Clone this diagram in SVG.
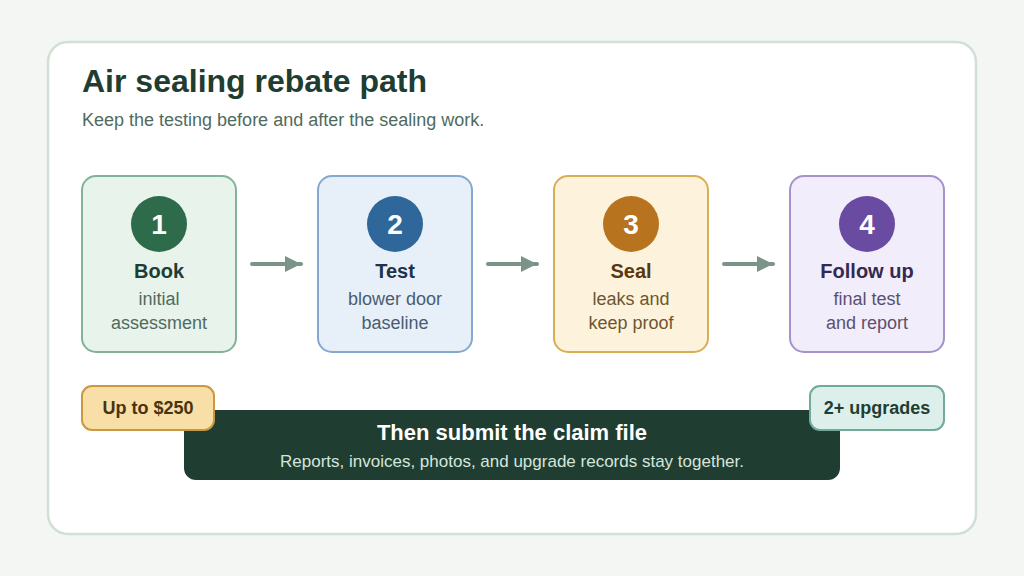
<svg xmlns="http://www.w3.org/2000/svg" width="1024" height="576" viewBox="0 0 1024 576">
<defs>
<style>
text{font-family:"Liberation Sans",Arial,sans-serif}
.title{font-size:32px;font-weight:bold;fill:#1f3d30}
.sub{font-size:18px;fill:#4f6b5d}
.node rect{stroke-width:2}
.num{font-size:28px;font-weight:bold;fill:#fff;text-anchor:middle}
.lbl{font-size:20px;font-weight:bold;text-anchor:middle}
.desc{font-size:18px;text-anchor:middle}
.conn line{stroke:#7a9487;stroke-width:4;stroke-linecap:round}
.badge{font-size:18px;font-weight:bold;text-anchor:middle}
</style>
<marker id="ah" viewBox="0 0 16 16" refX="16" refY="8" markerWidth="16" markerHeight="16" orient="auto" markerUnits="userSpaceOnUse">
<path d="M0,0 L16,8 L0,16 z" fill="#7a9487"/>
</marker>
</defs>
<rect width="1024" height="576" fill="#f3f6f3"/>
<rect x="48" y="42" width="928" height="492" rx="20" fill="#fff" stroke="#d0e0d5" stroke-width="2.5"/>
<text class="title" x="82" y="92">Air sealing rebate path</text>
<text class="sub" x="82" y="126">Keep the testing before and after the sealing work.</text>

<g class="conn">
<line x1="252" y1="264" x2="301" y2="264" marker-end="url(#ah)"/>
<line x1="488" y1="264" x2="537" y2="264" marker-end="url(#ah)"/>
<line x1="724" y1="264" x2="773" y2="264" marker-end="url(#ah)"/>
</g>

<g id="node1" class="node">
<rect x="82" y="176" width="154" height="176" rx="14" fill="#e8f3ec" stroke="#82b298"/>
<circle cx="159" cy="224" r="28" fill="#2e6b4a"/>
<text class="num" x="159" y="234">1</text>
<text class="lbl" x="159" y="278" fill="#1f3d30">Book</text>
<text class="desc" x="159" y="305" fill="#4f6b5d">initial</text>
<text class="desc" x="159" y="329" fill="#4f6b5d">assessment</text>
</g>
<g id="node2" class="node">
<rect x="318" y="176" width="154" height="176" rx="14" fill="#e7f0f9" stroke="#85a8d0"/>
<circle cx="395" cy="224" r="28" fill="#2f679a"/>
<text class="num" x="395" y="234">2</text>
<text class="lbl" x="395" y="278" fill="#1f3348">Test</text>
<text class="desc" x="395" y="305" fill="#4a5c70">blower door</text>
<text class="desc" x="395" y="329" fill="#4a5c70">baseline</text>
</g>
<g id="node3" class="node">
<rect x="554" y="176" width="154" height="176" rx="14" fill="#fdf3dd" stroke="#d8ae55"/>
<circle cx="631" cy="224" r="28" fill="#b8731f"/>
<text class="num" x="631" y="234">3</text>
<text class="lbl" x="631" y="278" fill="#5a3810">Seal</text>
<text class="desc" x="631" y="305" fill="#6e5630">leaks and</text>
<text class="desc" x="631" y="329" fill="#6e5630">keep proof</text>
</g>
<g id="node4" class="node">
<rect x="790" y="176" width="154" height="176" rx="14" fill="#f2edfb" stroke="#a592cc"/>
<circle cx="867" cy="224" r="28" fill="#6a4ba2"/>
<text class="num" x="867" y="234">4</text>
<text class="lbl" x="867" y="278" fill="#35294f">Follow up</text>
<text class="desc" x="867" y="305" fill="#5a5070">final test</text>
<text class="desc" x="867" y="329" fill="#5a5070">and report</text>
</g>

<g id="claim">
<rect x="184" y="410" width="656" height="70" rx="12" fill="#1f3d30"/>
<text x="512" y="440" font-size="22" font-weight="bold" fill="#fff" text-anchor="middle">Then submit the claim file</text>
<text x="512" y="467" font-size="17" fill="#d5e6dc" text-anchor="middle">Reports, invoices, photos, and upgrade records stay together.</text>
</g>
<g id="badge1">
<rect x="82" y="386" width="132" height="44" rx="10" fill="#f8dfa8" stroke="#c9983f" stroke-width="2"/>
<text class="badge" x="148" y="414" fill="#4a3310">Up to $250</text>
</g>
<g id="badge2">
<rect x="810" y="386" width="134" height="44" rx="10" fill="#ddefeb" stroke="#72a999" stroke-width="2"/>
<text class="badge" x="877" y="414" fill="#1f3d30">2+ upgrades</text>
</g>
</svg>
